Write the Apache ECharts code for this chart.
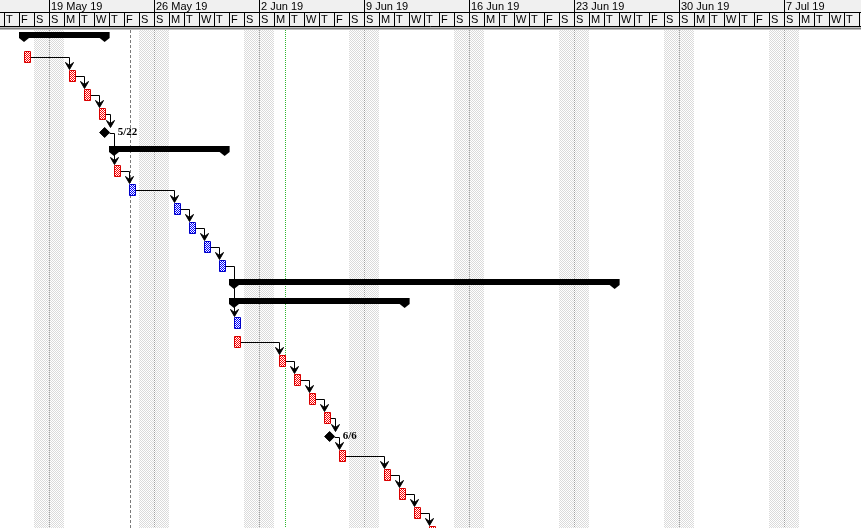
<!DOCTYPE html>
<html><head><meta charset="utf-8">
<script src="https://cdn.jsdelivr.net/npm/echarts@6/dist/echarts.min.js"></script>
<style>html,body{margin:0;padding:0;background:#fff}#c{width:861px;height:528px}</style>
</head><body><div id="c"></div>
<script>
// ---------------- data ----------------
const viewStart = '2019-05-15 17:36';
const viewEnd = '2019-07-12 03:12';
const dayLetters = ['S','M','T','W','T','F','S'];
const weekStarts = ['2019-05-19','2019-05-26','2019-06-02','2019-06-09','2019-06-16','2019-06-23','2019-06-30','2019-07-07'];
const weekLabels = ['19 May 19','26 May 19','2 Jun 19','9 Jun 19','16 Jun 19','23 Jun 19','30 Jun 19','7 Jul 19'];

const taskRows = [1,2,3,4,7,8,9,10,11,12,15,16,17,18,19,20,22,23,24,25,26];
const taskDays = ['2019-05-17','2019-05-20','2019-05-21','2019-05-22','2019-05-23','2019-05-24','2019-05-27','2019-05-28','2019-05-29','2019-05-30','2019-05-31','2019-05-31','2019-06-03','2019-06-04','2019-06-05','2019-06-06','2019-06-07','2019-06-10','2019-06-11','2019-06-12','2019-06-13'];
const taskCritical = [1,1,1,1,1,0,0,0,0,0,0,1,1,1,1,1,1,1,1,1,1];
const workStart = '08:00';
const workEnd = '17:00';

const summaryRows = [0,6,13,14];
const summaryStarts = ['2019-05-17 08:00','2019-05-23 08:00','2019-05-31 08:00','2019-05-31 08:00'];
const summaryEnds = ['2019-05-22 17:00','2019-05-30 17:00','2019-06-25 17:00','2019-06-11 17:00'];

const milestoneRows = [5,21];
const milestoneDates = ['2019-05-22 17:00','2019-06-06 17:00'];
const milestoneLabels = ['5/22','6/6'];

const linkFrom = [1,2,3,4,5,7,8,9,10,11,12,16,17,18,19,20,21,22,23,24,25];
const linkTo   = [2,3,4,5,7,8,9,10,11,12,15,17,18,19,20,21,22,23,24,25,26];

const currentDate = '2019-05-24 09:36';
const statusDate = '2019-06-03 18:00';

// ---------------- helpers ----------------
function t(s){
  const p = s.split(' ');
  const d = p[0].split('-').map(Number);
  let hh = 0, mm = 0;
  if (p[1]) { const h = p[1].split(':').map(Number); hh = h[0]; mm = h[1]; }
  return new Date(d[0], d[1]-1, d[2], hh, mm).getTime();
}
const xMin = t(viewStart), xMax = t(viewEnd);
const ROWH = 19, ROW0 = 37.5, H = 528;
const yMin = -ROW0 / ROWH, yMax = yMin + H / ROWH;
const HEAD = 30;

function pat(c1, c2, cells){
  const cv = document.createElement('canvas'); cv.width = 2; cv.height = 2;
  const g = cv.getContext('2d');
  g.fillStyle = c2; g.fillRect(0,0,2,2);
  g.fillStyle = c1; cells.forEach(function(c){ g.fillRect(c[0], c[1], 1, 1); });
  return {image: cv, repeat: 'repeat'};
}
const redPat = pat('#ff0000', '#ffffff', [[0,0],[1,1]]);
const bluePat = pat('#0000ff', '#ffffff', [[0,0],[1,1]]);
const greyPat = pat('#dadada', '#ffffff', [[0,0],[1,1]]);

// calendar days in view
const days = [];
(function(){
  const s = new Date(xMin); const base = new Date(s.getFullYear(), s.getMonth(), s.getDate());
  for (let i = 0; ; i++) {
    const d0 = new Date(base.getFullYear(), base.getMonth(), base.getDate()+i);
    const d1 = new Date(base.getFullYear(), base.getMonth(), base.getDate()+i+1);
    if (d0.getTime() > xMax) break;
    days.push([d0.getTime(), d1.getTime(), d0.getDay()]);
  }
})();

// row info for links
const rowInfo = {};
taskRows.forEach(function(r,i){ rowInfo[r] = {s: t(taskDays[i]+' '+workStart), e: t(taskDays[i]+' '+workEnd), ms: 0}; });
milestoneRows.forEach(function(r,i){ rowInfo[r] = {s: t(milestoneDates[i]), e: t(milestoneDates[i]), ms: 1}; });
summaryRows.forEach(function(r,i){ rowInfo[r] = {s: t(summaryStarts[i]), e: t(summaryEnds[i]), ms: 0}; });

const cx = function(api, v){ return api.coord([v, 0])[0]; };
const cy = function(api, r){ return api.coord([xMin, r])[1]; };
const crisp = function(x){ return Math.round(x) + 0.5; };

const series = [];

// weekend stipple + sunday dotted lines
series.push({
  type: 'custom', z: 1, silent: true,
  data: days,
  renderItem: function(params, api){
    const x0 = cx(api, api.value(0)), x1 = cx(api, api.value(1)), wd = api.value(2);
    const ch = [];
    if (wd === 6 || wd === 0) {
      ch.push({type:'rect', shape:{x:Math.round(x0), y:HEAD, width:Math.round(x1)-Math.round(x0), height:H-HEAD}, style:{fill: greyPat}});
    }
    if (wd === 0) {
      const xl = crisp(x0);
      ch.push({type:'line', shape:{x1:xl, y1:HEAD, x2:xl, y2:H}, style:{stroke:'#a0a0a0', lineWidth:1, lineDash:[1,1]}});
    }
    return {type:'group', children: ch};
  }
});

// current date / status date lines
series.push({
  type: 'custom', z: 2, silent: true,
  data: [[t(currentDate), 0], [t(statusDate), 1]],
  renderItem: function(params, api){
    const x = crisp(cx(api, api.value(0)));
    const green = api.value(1) === 1;
    return {type:'line', shape:{x1:x, y1:HEAD, x2:x, y2:H},
      style: green ? {stroke:'#2fb82f', lineWidth:1, lineDash:[1,1]} : {stroke:'#7a7a7a', lineWidth:1, lineDash:[3,2]}};
  }
});

// summary bars
series.push({
  type: 'custom', z: 3, silent: true,
  data: summaryRows.map(function(r,i){ return [t(summaryStarts[i]), r, t(summaryEnds[i])]; }),
  renderItem: function(params, api){
    const xs = cx(api, api.value(0)), xe = cx(api, api.value(2)), c = cy(api, api.value(1));
    const top = c - 5.5, mid = c + 0.5, bot = c + 4.5, w = 5;
    return {type:'polygon', shape:{points:[
      [xs-w, top],[xe+w, top],[xe+w, mid],[xe, bot],[xe-w, mid],[xs+w, mid],[xs, bot],[xs-w, mid]
    ]}, style:{fill:'#000'}};
  }
});

// links
series.push({
  type: 'custom', z: 4, silent: true,
  data: linkFrom.map(function(f,i){
    const a = rowInfo[f], b = rowInfo[linkTo[i]];
    return [a.e, f, b.s, linkTo[i], a.ms, b.ms];
  }),
  renderItem: function(params, api){
    const xe = cx(api, api.value(0)), y1 = cy(api, api.value(1));
    const xs = cx(api, api.value(2)), y2 = cy(api, api.value(3));
    const predMs = api.value(4) === 1, succMs = api.value(5) === 1;
    const xStart = predMs ? xe + 5 : xe;
    const xv = Math.max(xs, xe + 5);
    const tip = succMs ? y2 - 5 : y2 - 6;
    const xl = crisp(xv), yl = crisp(y1);
    return {type:'group', children:[
      {type:'polyline', shape:{points:[[xStart, yl],[xl, yl],[xl, tip-4]]}, style:{stroke:'#000', lineWidth:1, fill:null}},
      {type:'polygon', shape:{points:[[xl-4, tip-7],[xl, tip-4],[xl+4, tip-7],[xl, tip]]}, style:{fill:'#000', stroke:'#000', lineWidth:1}}
    ]};
  }
});

// task bars
series.push({
  type: 'custom', z: 5, silent: true,
  data: taskRows.map(function(r,i){ return [t(taskDays[i]+' '+workStart), r, t(taskDays[i]+' '+workEnd), taskCritical[i]]; }),
  renderItem: function(params, api){
    const x0 = cx(api, api.value(0)), x1 = cx(api, api.value(2)), c = cy(api, api.value(1));
    const crit = api.value(3) === 1;
    const xa = Math.round(x0) + 0.5, xb = Math.round(x1) + 0.5;
    return {type:'rect', shape:{x:xa, y:Math.round(c-6)+0.5, width:xb-xa, height:11},
      style:{fill: crit ? redPat : bluePat, stroke: crit ? '#d80000' : '#0000c8', lineWidth:1}};
  }
});

// milestones
series.push({
  type: 'custom', z: 5, silent: true,
  data: milestoneRows.map(function(r,i){ return [t(milestoneDates[i]), r, i]; }),
  renderItem: function(params, api){
    const x = cx(api, api.value(0)), c = cy(api, api.value(1));
    const s = 5;
    return {type:'group', children:[
      {type:'polygon', shape:{points:[[x, c-s],[x+s, c],[x, c+s],[x-s, c]]}, style:{fill:'#000', stroke:'#000', lineWidth:1}},
      {type:'text', x: x + 13, y: c, style:{text: milestoneLabels[api.value(2)], fill:'#000',
        font:'bold 11px "Liberation Serif", "Times New Roman", serif', verticalAlign:'middle', align:'left'}}
    ]};
  }
});

// header frame
series.push({
  type: 'custom', z: 10, silent: true,
  data: [[xMin, 0]],
  renderItem: function(params, api){
    return {type:'group', children:[
      {type:'rect', shape:{x:0, y:0, width:861, height:27}, style:{fill:'#f0f0f0'}},
      {type:'line', shape:{x1:0, y1:12.5, x2:861, y2:12.5}, style:{stroke:'#000', lineWidth:1}},
      {type:'line', shape:{x1:0, y1:26.5, x2:861, y2:26.5}, style:{stroke:'#000', lineWidth:1}},
      {type:'line', shape:{x1:0, y1:28.5, x2:861, y2:28.5}, style:{stroke:'#808080', lineWidth:2}}
    ]};
  }
});

// header day cells (only cells starting inside the view)
series.push({
  type: 'custom', z: 11, silent: true,
  data: days.filter(function(d){ return d[0] >= xMin; }),
  renderItem: function(params, api){
    const x0 = crisp(cx(api, api.value(0)));
    return {type:'group', children:[
      {type:'line', shape:{x1:x0, y1:12.5, x2:x0, y2:26.5}, style:{stroke:'#000', lineWidth:1}},
      {type:'text', x: x0 + 1.5, y: 20, style:{text: dayLetters[api.value(2)], fill:'#000',
        font:'11px "Liberation Sans", Arial, sans-serif', verticalAlign:'middle', align:'left'}}
    ]};
  }
});

// header week labels
series.push({
  type: 'custom', z: 11, silent: true,
  data: weekStarts.map(function(w,i){ return [t(w), i]; }),
  renderItem: function(params, api){
    const x0 = crisp(cx(api, api.value(0)));
    return {type:'group', children:[
      {type:'line', shape:{x1:x0, y1:0, x2:x0, y2:12.5}, style:{stroke:'#000', lineWidth:1}},
      {type:'text', x: x0 + 1.5, y: 6.5, style:{text: weekLabels[api.value(1)], fill:'#000',
        font:'11px "Liberation Sans", Arial, sans-serif', verticalAlign:'middle', align:'left'}}
    ]};
  }
});

const chart = echarts.init(document.getElementById('c'), null, {renderer:'canvas'});
chart.setOption({
  animation: false,
  backgroundColor: '#ffffff',
  grid: {left:0, right:0, top:0, bottom:0},
  xAxis: {type:'time', min:xMin, max:xMax, show:false},
  yAxis: {type:'value', min:yMin, max:yMax, inverse:true, show:false},
  series: series
});
</script>
</body></html>
